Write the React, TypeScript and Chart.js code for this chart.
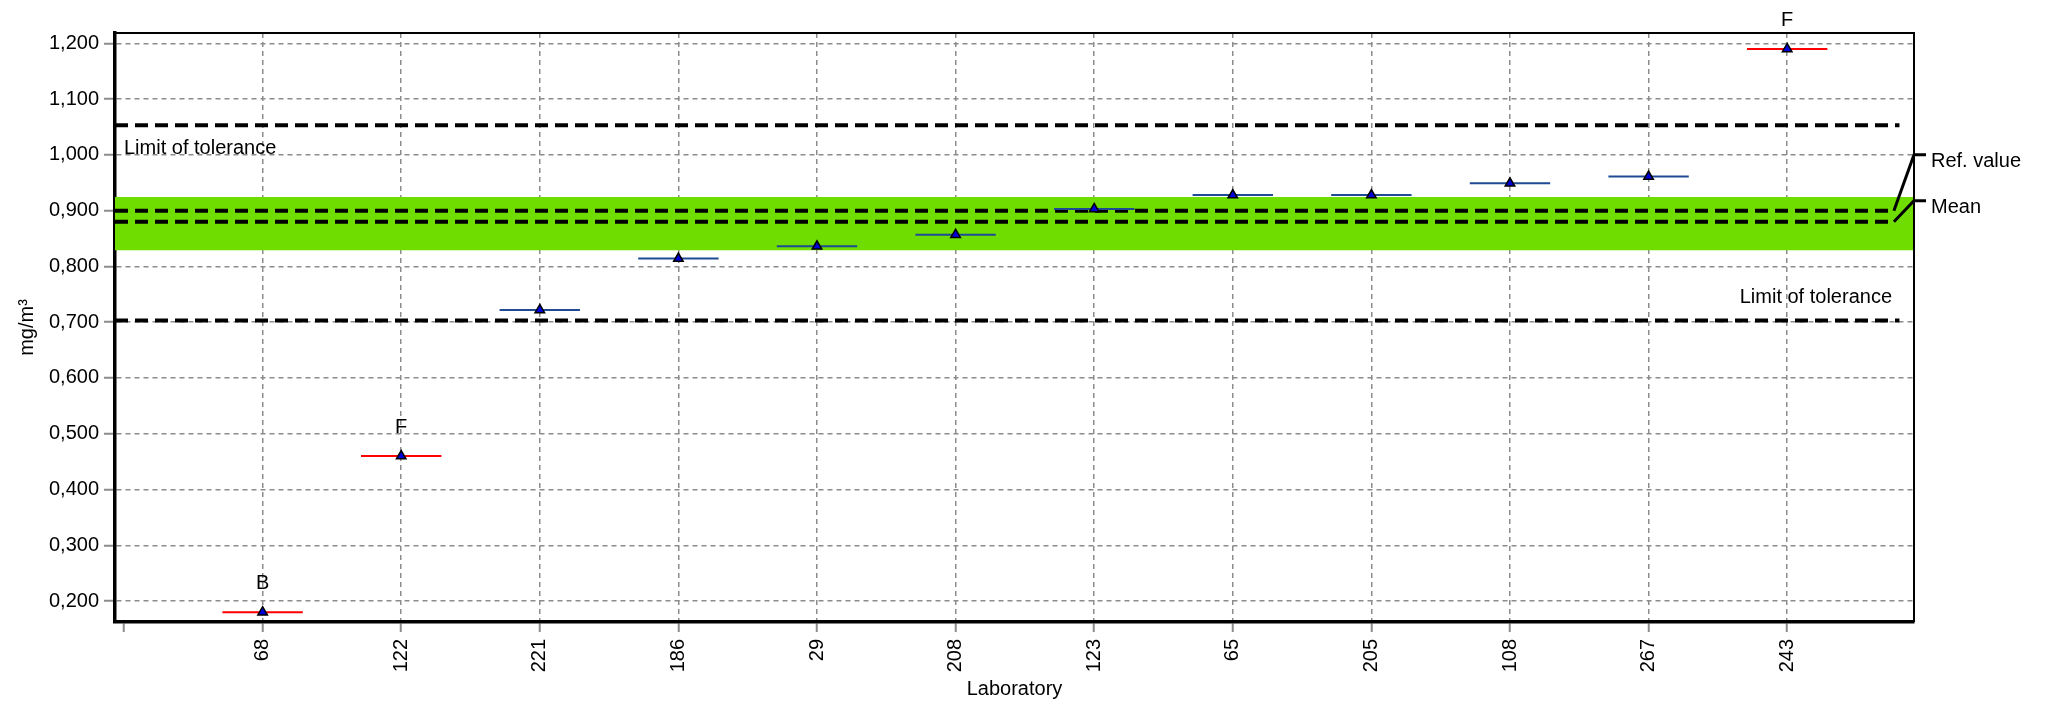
import React, { useEffect, useRef } from 'react';
import { Chart, registerables } from 'chart.js';

Chart.register(...registerables);

// Laboratories in ranked order and their reported results (mg/m³)
const labs = ['68', '122', '221', '186', '29', '208', '123', '65', '205', '108', '267', '243'];
const values = [0.180, 0.460, 0.722, 0.814, 0.836, 0.857, 0.903, 0.928, 0.928, 0.949, 0.961, 1.190];
const flags = ['B', 'F', '', '', '', '', '', '', '', '', '', 'F'];

// Reference lines
const refValue = 0.9;
const meanValue = 0.88;
const upperLimit = 1.053;
const lowerLimit = 0.703;
const bandLow = 0.829;
const bandHigh = 0.9245;

const yTickValues = [0.2, 0.3, 0.4, 0.5, 0.6, 0.7, 0.8, 0.9, 1.0, 1.1, 1.2];

const FONT = '"Liberation Sans", Arial, sans-serif';
const X_MIN = -0.065;
const X_MAX = 12.915;
const Y_MIN = 0.1625;
const Y_MAX = 1.2185;
const HALF_SEG = 0.29;
const TOL_END = 12.81;
const REF_END = 12.77;

const OUT_COLOR = '#ff0000';
const IN_COLOR = '#1f4a94';
const GRID = '#8c8c8c';

const decor = {
  id: 'decor',
  beforeDatasetsDraw(chart: any) {
    const { ctx, chartArea: a, scales } = chart;
    const y = scales.y;
    const t = y.getPixelForValue(bandHigh);
    const b = y.getPixelForValue(bandLow);
    ctx.save();
    ctx.fillStyle = '#6fdd00';
    ctx.fillRect(a.left, t, a.right - a.left, b - t);
    ctx.restore();
  },
  afterDraw(chart: any) {
    const { ctx, chartArea: a, scales } = chart;
    const x = scales.x;
    const y = scales.y;
    ctx.save();

    // thin top and right frame
    ctx.strokeStyle = '#000';
    ctx.lineWidth = 2;
    ctx.beginPath();
    ctx.moveTo(a.left, a.top);
    ctx.lineTo(a.right, a.top);
    ctx.lineTo(a.right, a.bottom);
    ctx.stroke();

    ctx.fillStyle = '#000';
    ctx.font = `20px ${FONT}`;
    ctx.textBaseline = 'alphabetic';

    // tolerance labels
    ctx.textAlign = 'left';
    ctx.fillText('Limit of tolerance', a.left + 9, y.getPixelForValue(upperLimit) + 29);
    ctx.textAlign = 'right';
    ctx.fillText('Limit of tolerance', a.right - 22, y.getPixelForValue(lowerLimit) - 18);

    // flags above the outliers
    ctx.textAlign = 'center';
    flags.forEach((f, i) => {
      if (!f) return;
      ctx.fillText(f, x.getPixelForValue(i + 1), y.getPixelForValue(values[i]) - 23);
    });

    // leader lines for reference value and mean
    const xe = x.getPixelForValue(REF_END);
    const yr = y.getPixelForValue(refValue);
    const ym = y.getPixelForValue(meanValue);
    const tickR = yr - 56;
    const tickM = ym - 21;
    ctx.lineWidth = 3;
    ctx.beginPath();
    ctx.moveTo(xe, yr);
    ctx.lineTo(a.right, tickR);
    ctx.lineTo(a.right + 12, tickR);
    ctx.moveTo(xe, ym);
    ctx.lineTo(a.right, tickM);
    ctx.lineTo(a.right + 12, tickM);
    ctx.stroke();
    ctx.textAlign = 'left';
    ctx.fillText('Ref. value', a.right + 17, tickR + 12);
    ctx.fillText('Mean', a.right + 17, tickM + 12);

    // axis titles
    ctx.textAlign = 'center';
    ctx.fillText('Laboratory', (a.left + a.right) / 2, 695);
    ctx.translate(27, (a.top + a.bottom) / 2);
    ctx.rotate(-Math.PI / 2);
    ctx.textBaseline = 'middle';
    ctx.fillText('mg/m³', 0, 0);

    ctx.restore();
  },
};

function hLine(v: number, end: number) {
  return {
    data: [
      { x: X_MIN, y: v },
      { x: end, y: v },
    ],
    showLine: true,
    borderColor: '#000',
    borderWidth: 4,
    borderDash: [13, 7],
    borderCapStyle: 'butt',
    pointRadius: 0,
    order: 3,
  };
}

export default function App() {
  const ref = useRef<HTMLCanvasElement | null>(null);

  useEffect(() => {
    if (!ref.current) return;

    const segments = values.map((v, i) => ({
      data: [
        { x: i + 1 - HALF_SEG, y: v },
        { x: i + 1 + HALF_SEG, y: v },
      ],
      showLine: true,
      borderColor: flags[i] ? OUT_COLOR : IN_COLOR,
      borderWidth: 2,
      pointRadius: 0,
      order: 1,
    }));

    const chart = new Chart(ref.current, {
      type: 'scatter',
      data: {
        datasets: [
          {
            data: values.map((v, i) => ({ x: i + 1, y: v })),
            pointStyle: 'triangle',
            pointRadius: 5.5,
            backgroundColor: '#0000dd',
            borderColor: '#000',
            borderWidth: 1.5,
            showLine: false,
            order: 0,
          },
          ...segments,
          hLine(upperLimit, TOL_END),
          hLine(lowerLimit, TOL_END),
          hLine(refValue, REF_END),
          hLine(meanValue, REF_END),
        ] as any,
      },
      options: {
        animation: false,
        responsive: false,
        devicePixelRatio: 1,
        events: [],
        layout: { padding: { left: 0, top: 33, right: 135, bottom: 0 } },
        plugins: { legend: { display: false }, tooltip: { enabled: false } },
        scales: {
          x: {
            type: 'linear',
            min: X_MIN,
            max: X_MAX,
            afterBuildTicks: (axis: any) => {
              axis.ticks = [0, ...labs.map((_, i) => i + 1)].map((v) => ({ value: v }));
            },
            afterFit: (axis: any) => {
              axis.height = 81;
            },
            ticks: {
              autoSkip: false,
              minRotation: 90,
              maxRotation: 90,
              padding: 7,
              color: '#000',
              font: { family: FONT, size: 20 },
              callback: (v: any) => (v === 0 ? '' : labs[v - 1]),
            },
            grid: {
              color: (c: any) => (c.tick && c.tick.value === 0 ? 'rgba(0,0,0,0)' : GRID),
              lineWidth: 1.5,
              tickColor: GRID,
              tickWidth: 2,
              tickLength: 10,
              tickBorderDash: [],
            },
            border: { display: true, color: '#000', width: 3.5, dash: [5, 4] },
          },
          y: {
            type: 'linear',
            min: Y_MIN,
            max: Y_MAX,
            afterBuildTicks: (axis: any) => {
              axis.ticks = yTickValues.map((v) => ({ value: v }));
            },
            afterFit: (axis: any) => {
              axis.width = 115;
            },
            ticks: {
              padding: 5,
              color: '#000',
              font: { family: FONT, size: 20 },
              callback: (v: any) => Number(v).toFixed(3).replace('.', ','),
            },
            grid: {
              color: GRID,
              lineWidth: 1.5,
              tickColor: GRID,
              tickWidth: 2,
              tickLength: 11,
              tickBorderDash: [],
            },
            border: { display: true, color: '#000', width: 3.5, dash: [5, 4] },
          },
        },
      },
      plugins: [decor],
    } as any);

    return () => chart.destroy();
  }, []);

  return (
    <div style={{ position: 'fixed', left: 0, top: 0, width: 2049, height: 703, background: '#fff' }}>
      <canvas ref={ref} width={2049} height={703} style={{ display: 'block' }} />
    </div>
  );
}
